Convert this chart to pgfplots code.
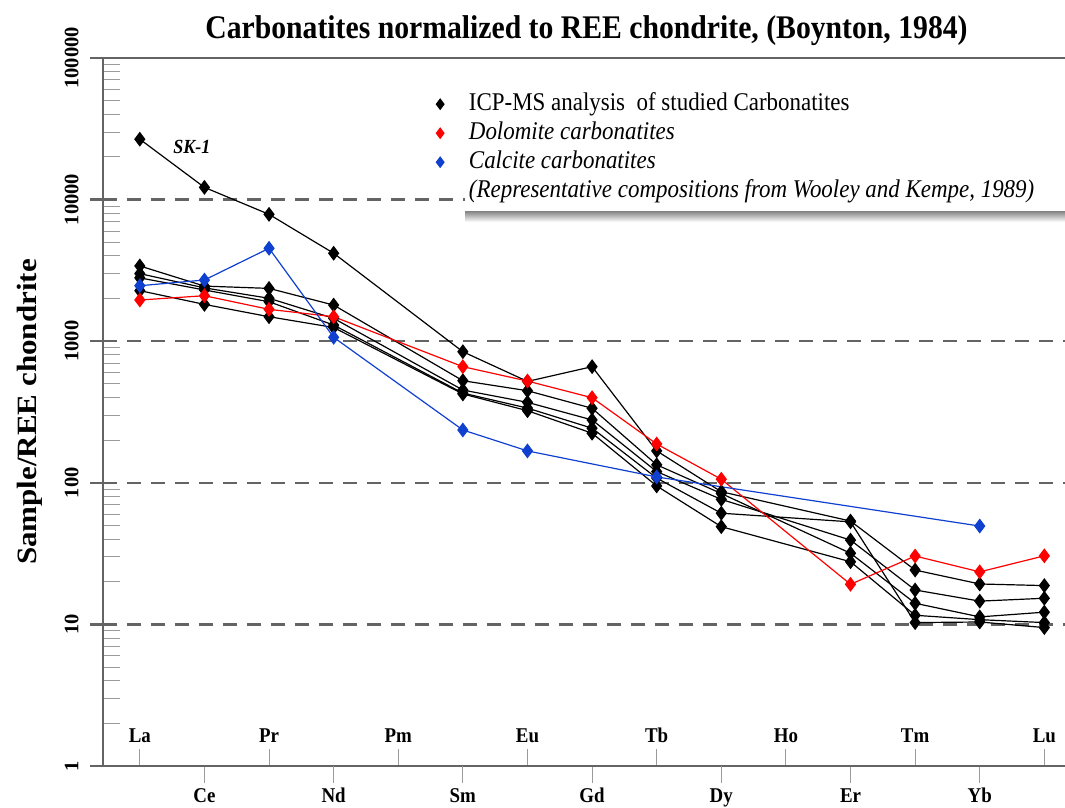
\documentclass[border=0pt]{standalone}
\usepackage{pgfplots}
\pgfplotsset{compat=1.18}
\usepackage{fontspec}
\setmainfont{Liberation Serif}[FakeStretch=0.9]
\newfontfamily\plainserif{Liberation Serif}
\definecolor{axgray}{RGB}{100,100,100}
\definecolor{tickgray}{RGB}{155,155,155}
\definecolor{calblue}{RGB}{16,64,208}
\begin{document}
\begin{tikzpicture}
\useasboundingbox (-103pt,-41pt) rectangle (962pt,766pt);
\begin{axis}[
  scale only axis, width=962pt, height=708pt,
  ymode=log, ymin=1, ymax=100000,
  xmin=-0.57, xmax=14.32,
  clip=false,
  axis x line=bottom, axis y line=left,
  axis line style={-, axgray, line width=2.2pt},
  tick align=inside, major tick length=17pt,
  tick style={tickgray, line width=1pt},
  xtick={0,2,4,6,8,10,12,14},
  xticklabels={La,Pr,Pm,Eu,Tb,Ho,Tm,Lu},
  xticklabel style={anchor=base, yshift=24pt, font=\fontsize{21}{21}\selectfont\bfseries},
  extra x ticks={1,3,5,7,9,11,13},
  extra x tick labels={Ce,Nd,Sm,Gd,Dy,Er,Yb},
  extra x tick style={tick align=outside, major tick length=17pt, xticklabel style={yshift=-44pt}},
  ytick={2,3,4,5,6,7,8,9,20,30,40,50,60,70,80,90,200,300,400,500,600,700,800,900,2000,3000,4000,5000,6000,7000,8000,9000,20000,30000,40000,50000,60000,70000,80000,90000},
  yticklabels={},
  minor y tick num=0,
  extra y ticks={1,10,100,1000,10000,100000},
  extra y tick labels={1,10,100,1000,10000,100000},
  extra y tick style={tick align=center, major tick length=26pt,
     tick style={axgray, line width=2.2pt},
     grid=major, major grid style={axgray, line width=2.2pt, dash pattern=on 14pt off 10pt},
     yticklabel style={xshift=-8pt, rotate=90, anchor=south, font=\plainserif\fontsize{20.5}{20.5}\selectfont\bfseries}},
  ylabel={\scalebox{1}[0.9]{\plainserif\fontsize{31}{31}\selectfont\bfseries Sample/REE chondrite}},
  every axis y label/.style={at={(axis description cs:-0.0759,0.5)}, rotate=90, anchor=center},
  title={\fontsize{33}{33}\selectfont\bfseries Carbonatites normalized to REE chondrite, (Boynton, 1984)},
  every axis title/.style={at={(axis description cs:0.5026,1.0282)}, anchor=base},
  legend style={at={(axis description cs:0.3464,0.9555)}, anchor=north west, draw=none, fill=none,
     inner sep=0pt, column sep=22.5pt, row sep=0pt,
     font=\fontsize{25.5}{25.5}\selectfont,
     nodes={text height=18pt, text depth=6pt, inner sep=2.5pt}},
  legend cell align=left,
  legend image code/.code={\draw[#1, mark size=5pt] plot coordinates {(0pt,0pt)};},
]
\fill[white] (rel axis cs:0.3763,0.7825) rectangle (rel axis cs:1,0.975);
\shade[top color=gray!90, bottom color=white] (rel axis cs:0.3763,0.7684) rectangle (rel axis cs:1,0.7825);
\draw[axgray, line width=2.2pt] (rel axis cs:0,1) -- (rel axis cs:1,1);

% SK-1
\addplot[black, line width=1.2pt, mark=diamond*, mark size=6.5pt] coordinates {
(0,26700)(1,12200)(2,7870)(3,4180)(5,843)(6,520)(7,661)(8,168)(9,86.5)(11,53.7)(12,24.2)(13,19.3)(14,18.8)};
\addlegendentry{ICP-MS analysis \ of studied Carbonatites}
\addplot[black, line width=1.2pt, mark=diamond*, mark size=6.5pt, forget plot] coordinates {
(0,3400)(1,2450)(2,2360)(3,1800)(5,526)(6,447)(7,336)(8,134)(9,84)(11,31.8)(12,14.1)(13,11.3)(14,12.2)};
\addplot[black, line width=1.2pt, mark=diamond*, mark size=6.5pt, forget plot] coordinates {
(0,3000)(1,2380)(2,2010)(3,1450)(5,452)(6,370)(7,278)(8,120)(9,76.4)(11,39.4)(12,17.5)(13,14.6)(14,15.3)};
\addplot[black, line width=1.2pt, mark=diamond*, mark size=6.5pt, forget plot] coordinates {
(0,2800)(1,2300)(2,1900)(3,1300)(5,430)(6,337)(7,243)(8,108)(9,61)(11,53)(12,10.3)(13,10.4)(14,9.5)};
\addplot[black, line width=1.2pt, mark=diamond*, mark size=6.5pt, forget plot] coordinates {
(0,2275)(1,1820)(2,1489)(3,1250)(5,424)(6,323)(7,224)(8,95)(9,49)(11,27.7)(12,11.6)(13,10.8)(14,10.3)};
% Dolomite
\addplot[red, line width=1.2pt, mark=diamond*, mark size=6.5pt] coordinates {
(0,1954)(1,2095)(2,1679)(3,1489)(5,661)(6,523)(7,399)(8,188)(9,106)(11,19.2)(12,30.4)(13,23.5)(14,30.5)};
\addlegendentry{\textit{Dolomite carbonatites}}
% Calcite
\addplot[calblue, line width=1.2pt, mark=diamond*, mark size=6.5pt] coordinates {
(0,2465)(1,2705)(2,4530)(3,1065)(5,236)(6,168)(8,110)(13,49.5)};
\addlegendentry{\textit{Calcite carbonatites}}
\addlegendimage{empty legend}
\addlegendentry{\textit{(Representative compositions from Wooley and Kempe, 1989)}}

\node[anchor=base, font=\fontsize{20}{20}\selectfont\bfseries\itshape] at (axis cs:0.805,21330) {SK-1};
\end{axis}
\end{tikzpicture}
\end{document}
